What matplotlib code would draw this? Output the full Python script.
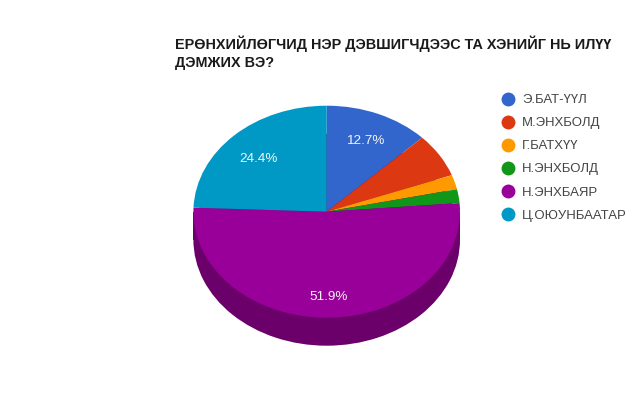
import matplotlib
matplotlib.use("Agg")
import matplotlib.pyplot as plt
from matplotlib.lines import Line2D
from matplotlib.patches import Rectangle

names = ["Э.БАТ-ҮҮЛ", "М.ЭНХБОЛД", "Г.БАТХҮҮ", "Н.ЭНХБОЛД", "Н.ЭНХБАЯР", "Ц.ОЮУНБААТАР"]
shares = [12.7, 6.7, 2.2, 2.1, 51.9, 24.4]
colors = ["#3366CC", "#DC3912", "#FF9900", "#109618", "#990099", "#0099C6"]
side_color = "#6B006B"
title = "ЕРӨНХИЙЛӨГЧИД НЭР ДЭВШИГЧДЭЭС ТА ХЭНИЙГ НЬ ИЛҮҮ\nДЭМЖИХ ВЭ?"

W, H = 640, 401
plt.rcParams["font.family"] = ["Liberation Sans", "DejaVu Sans"]
fig = plt.figure(figsize=(W / 100, H / 100), dpi=100, facecolor="white")

cx, cy, rx, ry = 326.7, 211.7, 133.3, 106.0
depth = 28.0 / ry
ax = fig.add_axes([(cx - rx) / W, 1 - (cy + ry + 28) / H, 2 * rx / W, (2 * ry + 28) / H])

# depth of the pie: a darker copy moved down, with the wall joining the two rims
ax.pie([1], colors=[side_color], radius=1, center=(0, -depth), wedgeprops={"linewidth": 0})
ax.add_patch(Rectangle((-1, -depth), 2, depth, facecolor=side_color, linewidth=0))

wedges, _, autotexts = ax.pie(
    shares, colors=colors, radius=1, center=(0, 0), startangle=90, counterclock=False,
    autopct=lambda p: f"{p:.1f}%" if p > 10 else "", pctdistance=0.74,
    wedgeprops={"linewidth": 0},
    textprops={"color": "#F4F4F4", "fontsize": 9.7},
)
autotexts[0].set_y(0.67)
autotexts[4].set_y(-0.80)
autotexts[5].set_y(0.50)

ax.set_aspect("auto")
ax.set_xlim(-1, 1)
ax.set_ylim(-1 - depth, 1)
ax.axis("off")

fig.text(175 / W, 1 - 53 / H, title, fontsize=10.4, fontweight="bold", color="#1A1A1A",
         va="center", ha="left", linespacing=1.33)

handles = [Line2D([], [], linestyle="", marker="o", markersize=10, markeredgewidth=0,
                  color=c, label=n) for c, n in zip(colors, names)]
fig.legend(handles=handles, loc="upper left", bbox_to_anchor=(495 / W, 1 - 94 / H),
           frameon=False, fontsize=9.45, labelcolor="#444444", labelspacing=0.83,
           handletextpad=0.05, borderpad=0, borderaxespad=0, handlelength=2)

fig.savefig("out.png", dpi=100, facecolor="white")
